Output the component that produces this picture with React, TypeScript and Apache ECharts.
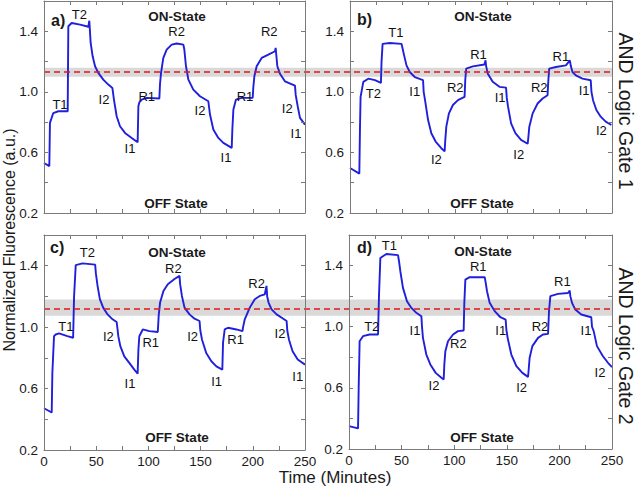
import React, { useEffect, useRef } from "react";
import * as echarts from "echarts";

const FONT = '"Liberation Sans", Arial, Helvetica, sans-serif';

// ---- data ----
const panelA: number[][] = [
  [0, 0.53], [5.1, 0.51], [5.7, 0.795], [8.9, 0.86], [13.7, 0.872], [22.7, 0.872],
  [23.3, 1.433], [26.5, 1.455], [34.5, 1.444], [42.5, 1.43], [43.4, 1.47], [44.7, 1.323],
  [46.6, 1.235], [48.9, 1.169], [52, 1.125], [56.8, 1.081], [61.6, 1.048], [65.5, 1.026],
  [67, 0.949], [69.6, 0.839], [72.8, 0.773], [77.6, 0.729], [84, 0.696], [89.7, 0.667],
  [90.4, 0.905], [91.3, 0.93], [93.6, 0.949], [98.3, 0.96], [110.5, 0.956], [111.1, 1.05],
  [112.1, 1.125], [114.3, 1.224], [117.5, 1.279], [122.3, 1.312], [127.1, 1.319], [133.5, 1.312],
  [134.4, 1.28], [136, 1.169], [138.3, 1.081], [143, 1.015], [149.4, 0.971], [157.4, 0.938],
  [159, 0.85], [162.2, 0.751], [167, 0.696], [171.8, 0.663], [179.8, 0.63], [180.4, 0.75],
  [181.4, 0.883], [183.9, 0.949], [189.3, 0.96], [199.9, 0.96], [200.5, 1.03], [201.5, 1.103],
  [203.7, 1.169], [208.5, 1.224], [214.9, 1.246], [221.3, 1.268], [221.9, 1.29], [223.5, 1.169],
  [226, 1.12], [230.8, 1.07], [240.4, 1.041], [241.1, 0.98], [243, 0.905], [245.2, 0.828], [250, 0.784],
];
const panelB: number[][] = [
  [0, 0.497], [8.9, 0.46], [9.5, 0.75], [10.1, 0.967], [12.7, 1.066], [17.4, 1.087], [23.8, 1.077],
  [29.5, 1.059], [30.1, 1.2], [31.1, 1.317], [38, 1.323], [49.1, 1.317], [50.1, 1.29], [51.3, 1.251],
  [53.9, 1.175], [57, 1.131], [61.8, 1.098], [69.7, 1.077], [70.3, 1.0], [71.6, 0.945], [74.5, 0.814],
  [77.6, 0.727], [81.7, 0.672], [87.1, 0.628], [90.3, 0.607], [90.9, 0.68], [91.9, 0.77], [94.4, 0.858],
  [98.2, 0.913], [103, 0.945], [109.3, 0.967], [110, 1.08], [110.9, 1.153], [117.2, 1.168], [128.3, 1.181],
  [129.3, 1.208], [129.9, 1.17], [131.5, 1.12], [136.2, 1.066], [142.6, 1.033], [148.9, 1.028],
  [149.6, 0.96], [150.8, 0.902], [153.7, 0.792], [157.8, 0.727], [163.2, 0.683], [169.5, 0.657],
  [170.2, 0.7], [171.1, 0.77], [174.3, 0.858], [179, 0.923], [183.8, 0.956], [188.5, 0.978],
  [189.2, 1.07], [190.1, 1.153], [196.5, 1.164], [206, 1.175], [209.8, 1.208], [210.7, 1.17],
  [212.3, 1.131], [215.5, 1.109], [221.8, 1.087], [229.7, 1.077], [230.4, 1.0], [231.9, 0.945],
  [235.1, 0.88], [239.2, 0.836], [244, 0.803], [249.4, 0.781], [250, 0.78],
];
const panelC: number[][] = [
  [0, 0.472], [7.4, 0.444], [8, 0.7], [9.6, 0.941], [11.2, 0.952], [14.4, 0.959], [22.4, 0.941],
  [27.9, 0.931], [28.8, 1.2], [30.4, 1.404], [36.9, 1.415], [49, 1.407], [49.7, 1.35], [51.3, 1.269],
  [53.5, 1.182], [56.7, 1.127], [60.9, 1.083], [65.7, 1.051], [69.6, 1.033], [70.2, 1.0], [71.2, 0.941],
  [73.1, 0.876], [76.9, 0.81], [81.7, 0.767], [86.5, 0.723], [89.7, 0.697], [90.4, 0.85], [91.3, 0.941],
  [94.6, 0.985], [101, 0.974], [109, 0.968], [109.9, 1.08], [111.2, 1.16], [114.4, 1.236], [118.6, 1.28],
  [125, 1.313], [129.8, 1.334], [130.4, 1.28], [132.1, 1.203], [134.6, 1.127], [139.4, 1.083],
  [144.2, 1.055], [149, 1.04], [149.7, 0.98], [151.3, 0.92], [155.4, 0.832], [160.3, 0.778],
  [165.1, 0.745], [170.8, 0.723], [171.5, 0.9], [173.1, 0.985], [176.3, 0.996], [184.3, 0.985],
  [190.1, 0.974], [190.7, 1.0], [192.3, 1.051], [197.1, 1.127], [201.9, 1.182], [206.7, 1.203],
  [211.5, 1.214], [213.1, 1.269], [213.8, 1.2], [215.1, 1.16], [218, 1.116], [222.8, 1.083],
  [229.2, 1.055], [232.4, 1.04], [233, 0.98], [234.6, 0.92], [238.1, 0.843], [243, 0.789], [250, 0.756],
];
const panelD: number[][] = [
  [0, 0.35], [8.6, 0.335], [9.2, 0.6], [10.1, 0.905], [13.3, 0.938], [19.6, 0.949], [27.6, 0.949],
  [28.5, 1.2], [29.8, 1.45], [35.5, 1.476], [46.6, 1.468], [47.5, 1.43], [48.8, 1.363], [51.3, 1.254],
  [55.1, 1.167], [59.3, 1.123], [64, 1.091], [68.8, 1.069], [69.4, 1.0], [70.3, 0.927], [73.5, 0.818],
  [77.3, 0.753], [82.4, 0.698], [87.8, 0.666], [90, 0.655], [90.6, 0.75], [91.6, 0.84], [94.1, 0.905],
  [98.9, 0.949], [103.6, 0.971], [109, 0.975], [109.6, 1.15], [110.6, 1.308], [114.7, 1.324],
  [129, 1.324], [129.9, 1.29], [131.2, 1.232], [133.7, 1.156], [138.5, 1.102], [143.9, 1.062],
  [148.9, 1.047], [149.6, 0.98], [150.8, 0.927], [154.3, 0.818], [159.1, 0.742], [164.8, 0.698],
  [170.2, 0.672], [170.8, 0.72], [171.7, 0.797], [174.3, 0.873], [179.7, 0.927], [184.4, 0.949],
  [189.2, 0.953], [190.1, 1.1], [191.4, 1.2], [198.7, 1.215], [208.2, 1.221], [209.8, 1.237],
  [210.4, 1.2], [212, 1.156], [215.1, 1.112], [220.8, 1.08], [230.3, 1.062], [231, 1.0], [232.6, 0.971],
  [235.7, 0.873], [241.4, 0.807], [246.2, 0.764], [250, 0.736],
];

// annotation labels: [time, value, text]
const notesA: [number, number, string][] = [
  [15.3, 0.916, "T1"], [33.8, 1.51, "T2"], [57.5, 0.949, "I2"], [82.4, 0.624, "I1"],
  [98.4, 0.971, "R1"], [127, 1.396, "R2"], [149.4, 0.877, "I2"], [174.3, 0.564, "I1"],
  [192.5, 0.971, "R1"], [215.8, 1.396, "R2"], [233, 0.888, "I2"], [241.4, 0.725, "I1"],
];
const notesB: [number, number, string][] = [
  [22.2, 0.989, "T2"], [43.7, 1.389, "T1"], [61.8, 1.004, "I1"], [82.4, 0.553, "I2"],
  [100.4, 1.026, "R2"], [122.6, 1.246, "R1"], [143.2, 0.96, "I1"], [161, 0.586, "I2"],
  [180.6, 1.026, "R2"], [201.2, 1.235, "R1"], [223.4, 1.011, "I1"], [239.8, 0.747, "I2"],
];
const notesC: [number, number, string][] = [
  [21, 1.007, "T1"], [41.5, 1.483, "T2"], [61.6, 0.942, "I2"], [82.4, 0.632, "I1"],
  [102.2, 0.899, "R1"], [123.9, 1.383, "R2"], [142.4, 0.942, "I2"], [165.4, 0.647, "I1"],
  [183.6, 0.92, "R1"], [203.7, 1.287, "R2"], [226, 0.96, "I2"], [243, 0.68, "I1"],
];
const notesD: [number, number, string][] = [
  [21.6, 0.999, "T2"], [38.3, 1.534, "T1"], [62.7, 0.977, "I1"], [80.8, 0.616, "I2"],
  [103.9, 0.89, "R2"], [122.9, 1.392, "R1"], [144.2, 0.977, "I1"], [164.1, 0.605, "I2"],
  [181.6, 0.999, "R2"], [202.8, 1.294, "R1"], [225.3, 0.977, "I1"], [238.6, 0.703, "I2"],
];

const panelNames = ["a)", "b)", "c)", "d)"];
const topText = "ON-State";
const bottomText = "OFF State";
const rowTitles = ["AND Logic Gate 1", "AND Logic Gate 2"];
const yTitle = "Normalized Fluorescence (a.u.)";
const xTitle = "Time (Minutes)";

const timeRange = [0, 250];
const valueRange = [0.2, 1.6];
const bandUpper = [1.1, 1.16]; // gray band, top row
const bandLower = [1.075, 1.18]; // gray band, bottom row
const thresholdUpper = 1.13;
const thresholdLower = 1.12;

const curves = [panelA, panelB, panelC, panelD];
const notes = [notesA, notesB, notesC, notesD];

// ---- layout ----
const grids = [
  { left: 44, top: 1, width: 261, height: 212 },
  { left: 350, top: 1, width: 262, height: 212 },
  { left: 44, top: 235, width: 261, height: 215 },
  { left: 349, top: 235, width: 263, height: 214 },
];
const spanGrids = [
  { left: 44, top: 1, width: 568, height: 212 },
  { left: 44, top: 235, width: 568, height: 215 },
];

const AXIS_COLOR = "#7a7a7a";
const TEXT_COLOR = "#1a1a1a";

function buildOption() {
  const grid: any[] = [];
  const xAxis: any[] = [];
  const yAxis: any[] = [];
  const series: any[] = [];

  grids.forEach((g, i) => {
    grid.push({ ...g, outerBoundsMode: "none", containLabel: false });
    const showX = i >= 2;
    const baseX = {
      type: "value",
      gridIndex: i,
      min: timeRange[0],
      max: timeRange[1],
      interval: 25,
      splitLine: { show: false },
      axisLine: { show: true, onZero: false, lineStyle: { color: AXIS_COLOR, width: 1 } },
      axisTick: { show: true, inside: true, length: 4, lineStyle: { color: AXIS_COLOR } },
      z: 5,
    };
    xAxis.push({
      ...baseX,
      position: "bottom",
      axisLabel: {
        show: showX,
        margin: 4,
        color: TEXT_COLOR,
        fontSize: 13.5,
        fontFamily: FONT,
        formatter: (v: number) => (Math.round(v) % 50 === 0 ? String(Math.round(v)) : ""),
      },
    });
    xAxis.push({ ...baseX, position: "top", axisLabel: { show: false } });
    const baseY = {
      type: "value",
      gridIndex: i,
      min: valueRange[0],
      max: valueRange[1],
      interval: 0.2,
      splitLine: { show: false },
      axisLine: { show: true, onZero: false, lineStyle: { color: AXIS_COLOR, width: 1 } },
      axisTick: { show: true, inside: true, length: 4, lineStyle: { color: AXIS_COLOR } },
      z: 5,
    };
    yAxis.push({
      ...baseY,
      position: "left",
      axisLabel: {
        show: true,
        margin: 6,
        color: TEXT_COLOR,
        fontSize: 13.5,
        fontFamily: FONT,
        formatter: (v: number) => {
          const k = Math.round(v * 10);
          return k % 4 === 2 && k <= 14 ? (k / 10).toFixed(1) : "";
        },
      },
    });
    yAxis.push({ ...baseY, position: "right", axisLabel: { show: false } });
  });

  spanGrids.forEach((g, j) => {
    grid.push({ ...g, outerBoundsMode: "none", containLabel: false });
    xAxis.push({ type: "value", gridIndex: 4 + j, min: 0, max: 1, show: false });
    yAxis.push({ type: "value", gridIndex: 4 + j, min: valueRange[0], max: valueRange[1], show: false });
    const band = j === 0 ? bandUpper : bandLower;
    const thr = j === 0 ? thresholdUpper : thresholdLower;
    series.push({
      type: "line",
      xAxisIndex: 8 + j,
      yAxisIndex: 8 + j,
      data: [],
      z: 1,
      silent: true,
      markArea: {
        silent: true,
        itemStyle: { color: "#d9d9d9" },
        data: [[{ yAxis: band[0] }, { yAxis: band[1] }]],
      },
      markLine: {
        silent: true,
        symbol: "none",
        label: { show: false },
        lineStyle: { color: "#e4161c", type: [6, 4], width: 1.6 },
        data: [{ yAxis: thr }],
      },
    });
  });

  curves.forEach((c, i) => {
    series.push({
      type: "line",
      xAxisIndex: 2 * i,
      yAxisIndex: 2 * i,
      data: c,
      showSymbol: false,
      symbol: "none",
      color: "#1f1fdc",
      lineStyle: { color: "#1f1fdc", width: 1.9 },
      z: 3,
    });
    series.push({
      type: "scatter",
      xAxisIndex: 2 * i,
      yAxisIndex: 2 * i,
      symbolSize: 0,
      z: 4,
      color: TEXT_COLOR,
      itemStyle: { color: TEXT_COLOR, opacity: 0 },
      data: notes[i].map((n) => ({ name: n[2], value: [n[0], n[1]] })),
      label: {
        show: true,
        position: [0, 0],
        align: "center",
        verticalAlign: "middle",
        formatter: "{b}",
        color: "#111111",
        textBorderWidth: 0,
        textBorderColor: "transparent",
        textShadowBlur: 0,
        opacity: 1,
        fontSize: 13,
        fontFamily: FONT,
      },
      labelLayout: { hideOverlap: false },
    });
  });

  const t = (text: string, x: number, y: number, size: number, bold: boolean, align = "center", rotation = 0) => ({
    type: "text",
    x,
    y,
    rotation,
    z: 10,
    style: {
      text,
      fill: TEXT_COLOR,
      fontSize: size,
      fontWeight: bold ? "bold" : "normal",
      fontFamily: FONT,
      textAlign: align,
      align,
      textVerticalAlign: "middle",
      verticalAlign: "middle",
    },
  });

  const graphic: any[] = [
    t(panelNames[0], 51, 20, 16, true, "left"),
    t(panelNames[1], 357, 19, 16, true, "left"),
    t(panelNames[2], 50, 247, 16, true, "left"),
    t(panelNames[3], 357, 247, 16, true, "left"),
    t(topText, 177, 16, 13.5, true),
    t(topText, 483, 16, 13.5, true),
    t(topText, 177, 252, 13.5, true),
    t(topText, 483, 251, 13.5, true),
    t(bottomText, 176, 203, 13.5, true),
    t(bottomText, 482, 203, 13.5, true),
    t(bottomText, 177, 437, 13.5, true),
    t(bottomText, 482, 437, 13.5, true),
    t(yTitle, 9, 240, 16, false, "center", Math.PI / 2),
    t(rowTitles[0], 626, 111, 19.5, false, "center", -Math.PI / 2),
    t(rowTitles[1], 626, 346, 19.5, false, "center", -Math.PI / 2),
    t(xTitle, 335, 477, 17, false),
  ];

  return {
    animation: false,
    backgroundColor: "#ffffff",
    grid,
    xAxis,
    yAxis,
    series,
    graphic,
  };
}

export default function App() {
  const ref = useRef<HTMLDivElement>(null);
  useEffect(() => {
    if (!ref.current) return;
    const chart = echarts.init(ref.current, undefined, { renderer: "svg" });
    chart.setOption(buildOption() as any);
    return () => chart.dispose();
  }, []);
  return (
    <div
      ref={ref}
      style={{ position: "fixed", left: 0, top: 0, width: 637, height: 486, background: "#fff" }}
    />
  );
}
